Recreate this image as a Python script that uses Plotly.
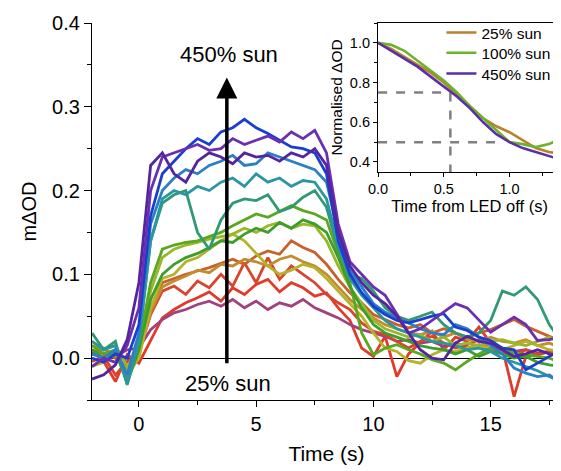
import plotly.graph_objects as go

# ---------------- data ----------------
time_s = [-2.0, -1.5, -1.0, -0.5, 0.0, 0.5, 1.0, 1.5, 2.0, 2.5, 3.0, 3.5, 4.0, 4.5, 5.0,
          5.5, 6.0, 6.5, 7.0, 7.5, 8.0, 8.5, 9.0, 9.5, 10.0, 10.5, 11.0, 11.5, 12.0,
          12.5, 13.0, 13.5, 14.0, 14.5, 15.0, 15.5, 16.0, 16.5, 17.0, 17.5, 18.0]

red_low = [0.008, -0.004, -0.028, 0.004, -0.006, 0.022, 0.048, 0.058, 0.066, 0.072, 0.079, 0.068,
           0.084, 0.076, 0.088, 0.094, 0.079, 0.090, 0.084, 0.074, 0.078, 0.060, 0.045, 0.012,
           0.002, 0.026, -0.022, 0.005, 0.018, 0.032, 0.010, 0.025, 0.020, 0.037, 0.018, 0.012,
           -0.046, 0.002, 0.004, 0.008, 0.000]
magenta = [0.004, 0.012, 0.002, 0.010, 0.012, 0.034, 0.046, 0.054, 0.058, 0.064, 0.068, 0.062,
           0.070, 0.060, 0.068, 0.058, 0.066, 0.062, 0.070, 0.060, 0.054, 0.048, 0.040, 0.034,
           0.030, 0.026, 0.020, 0.022, 0.018, 0.020, 0.014, 0.018, 0.012, 0.016, 0.010, 0.012,
           0.008, 0.010, 0.006, 0.008, 0.004]
red_high = [-0.004, 0.002, -0.020, -0.004, 0.006, 0.052, 0.080, 0.086, 0.076, 0.092, 0.084, 0.100,
            0.086, 0.114, 0.090, 0.120, 0.094, 0.110, 0.100, 0.090, 0.076, 0.066, 0.058, 0.042,
            0.032, 0.028, 0.020, 0.012, 0.020, 0.026, 0.018, 0.012, 0.016, 0.022, 0.010, 0.006,
            0.002, 0.010, 0.004, 0.008, 0.002]
orange = [0.010, 0.005, 0.000, -0.010, 0.010, 0.060, 0.090, 0.095, 0.100, 0.104, 0.108, 0.113,
          0.118, 0.112, 0.122, 0.128, 0.124, 0.140, 0.132, 0.126, 0.112, 0.094, 0.078, 0.066,
          0.052, 0.046, 0.040, 0.036, 0.040, 0.030, 0.035, 0.030, 0.025, 0.030, 0.034, 0.040,
          0.046, 0.038, 0.032, 0.026, 0.021]
ochre = [0.015, 0.010, 0.005, -0.015, 0.005, 0.055, 0.085, 0.092, 0.098, 0.105, 0.102, 0.112,
         0.110, 0.118, 0.115, 0.110, 0.118, 0.122, 0.115, 0.110, 0.100, 0.085, 0.070, 0.058,
         0.048, 0.040, 0.035, 0.030, 0.028, 0.032, 0.025, 0.030, 0.022, 0.020, 0.025, 0.020,
         0.018, 0.022, 0.015, 0.018, 0.012]
olive = [-0.010, -0.005, 0.005, -0.020, 0.000, 0.060, 0.095, 0.100, 0.115, 0.120, 0.130, 0.140,
         0.148, 0.140, 0.125, 0.110, 0.100, 0.105, 0.112, 0.108, 0.095, 0.080, 0.065, 0.050,
         0.030, 0.012, 0.008, -0.003, -0.006, 0.004, 0.010, 0.008, 0.012, 0.015, 0.012, 0.010,
         0.015, 0.020, 0.015, 0.010, 0.008]
yellow_green = [0.020, 0.010, 0.015, -0.010, 0.010, 0.080, 0.120, 0.130, 0.135, 0.138, 0.142, 0.145,
                0.148, 0.155, 0.150, 0.158, 0.162, 0.155, 0.160, 0.158, 0.140, 0.110, 0.085, 0.065,
                0.045, 0.035, 0.030, 0.025, 0.028, 0.020, 0.025, 0.015, 0.018, 0.015, 0.020, 0.022,
                0.018, 0.015, 0.020, 0.025, 0.018]
green = [0.015, 0.005, 0.010, -0.025, 0.015, 0.090, 0.130, 0.135, 0.138, 0.140, 0.145, 0.150,
         0.158, 0.165, 0.172, 0.168, 0.175, 0.182, 0.176, 0.172, 0.165, 0.125, 0.090, 0.030,
         0.004, 0.012, 0.016, 0.010, 0.005, -0.002, -0.006, -0.014, -0.004, 0.005, 0.012, 0.010,
         0.006, 0.004, 0.002, 0.000, -0.005]
green2 = [0.010, 0.000, 0.008, -0.030, 0.010, 0.070, 0.100, 0.112, 0.120, 0.125, 0.132, 0.140,
          0.138, 0.148, 0.155, 0.150, 0.162, 0.155, 0.165, 0.160, 0.150, 0.120, 0.085, 0.060,
          0.040, 0.030, 0.025, 0.020, 0.015, 0.012, 0.010, 0.005, 0.010, 0.002, 0.008, 0.005,
          0.000, 0.002, -0.005, -0.008, -0.010]
sea_green = [0.030, 0.010, 0.020, -0.032, 0.020, 0.140, 0.185, 0.195, 0.200, 0.150, 0.130, 0.165,
             0.185, 0.190, 0.188, 0.195, 0.175, 0.180, 0.192, 0.200, 0.180, 0.130, 0.100, 0.095,
             0.080, 0.060, 0.050, 0.045, 0.050, 0.055, 0.040, 0.030, 0.025, 0.030, 0.045, 0.080,
             0.075, 0.085, 0.070, 0.040, 0.020]
teal = [0.020, 0.010, 0.015, -0.030, 0.020, 0.140, 0.190, 0.200, 0.195, 0.205, 0.200, 0.210,
        0.215, 0.205, 0.220, 0.210, 0.215, 0.205, 0.212, 0.210, 0.190, 0.135, 0.095, 0.075,
        0.060, 0.045, 0.035, 0.030, 0.025, 0.020, 0.018, 0.015, 0.010, 0.012, 0.008, 0.000,
        -0.005, -0.010, -0.015, -0.022, -0.028]
light_blue = [0.005, 0.000, 0.010, -0.020, 0.030, 0.160, 0.200, 0.215, 0.225, 0.220, 0.230, 0.235,
              0.242, 0.230, 0.232, 0.245, 0.240, 0.235, 0.230, 0.225, 0.210, 0.150, 0.105, 0.085,
              0.065, 0.055, 0.048, 0.042, 0.035, 0.030, 0.028, 0.040, 0.035, 0.025, 0.015, 0.005,
              -0.012, -0.018, -0.022, -0.020, -0.030]
blue = [0.000, -0.005, 0.005, 0.000, 0.040, 0.170, 0.220, 0.235, 0.250, 0.262, 0.255, 0.270,
        0.275, 0.285, 0.275, 0.268, 0.260, 0.252, 0.250, 0.245, 0.220, 0.140, 0.100, 0.078,
        0.062, 0.052, 0.045, 0.042, 0.046, 0.050, 0.053, 0.037, 0.033, 0.025, 0.021, 0.012,
        0.010, -0.014, -0.006, 0.002, 0.010]
purple1 = [-0.010, 0.000, -0.005, 0.015, 0.060, 0.200, 0.240, 0.245, 0.250, 0.255, 0.248, 0.250,
           0.262, 0.255, 0.260, 0.265, 0.258, 0.270, 0.262, 0.272, 0.245, 0.160, 0.115, 0.100,
           0.085, 0.075, 0.053, 0.030, 0.035, 0.045, 0.055, 0.065, 0.060, 0.045, 0.031, 0.040,
           0.049, 0.040, 0.021, 0.022, 0.025]
purple2 = [-0.025, -0.020, -0.008, 0.022, 0.090, 0.230, 0.245, 0.220, 0.210, 0.235, 0.245, 0.240,
           0.232, 0.245, 0.240, 0.242, 0.235, 0.245, 0.240, 0.250, 0.230, 0.150, 0.110, 0.090,
           0.075, 0.065, 0.050, 0.030, 0.010, 0.000, -0.002, 0.018, 0.026, 0.020, 0.018, 0.010,
           0.002, 0.005, 0.010, 0.005, 0.002]

main_series = [red_low, magenta, red_high, orange, ochre, olive, yellow_green, green, green2,
               sea_green, teal, light_blue, blue, purple1, purple2]
main_colors = ["#e03a2a", "#a3407e", "#d8452c", "#c8602c", "#c38c2e", "#b6b22c", "#98b82a",
               "#5aa820", "#3d9e2c", "#2f9a72", "#2a96a2", "#2c7fc6", "#1a3fd0", "#6a2fb2",
               "#55259f"]

# inset: normalised decay after LED off
inset_time = [0.0, 0.1, 0.2, 0.3, 0.4, 0.5, 0.6, 0.7, 0.8, 0.9, 1.0, 1.1, 1.2, 1.3, 1.4]
inset_25 = [1.00, 0.97, 0.93, 0.89, 0.85, 0.80, 0.74, 0.68, 0.62, 0.58, 0.55, 0.51, 0.47, 0.45, 0.44]
inset_100 = [1.00, 0.99, 0.96, 0.91, 0.86, 0.81, 0.75, 0.68, 0.62, 0.56, 0.50, 0.49, 0.475, 0.49, 0.52]
inset_450 = [1.00, 0.96, 0.92, 0.88, 0.83, 0.78, 0.73, 0.67, 0.60, 0.54, 0.50, 0.47, 0.45, 0.43, 0.41]
inset_names = ["25% sun", "100% sun", "450% sun"]
inset_colors = ["#b8822e", "#6cb22a", "#5a2fa8"]

# guide levels in the inset
level_75 = 0.75
level_50 = 0.50
t_75 = 0.55
t_50_end = 0.95

# ranges
main_x_range = [-2, 18]
main_y_range = [-0.05, 0.4]
inset_x_range = [0, 1.392]
inset_y_range = [0.35, 1.1]

arrow_x = 3.75
arrow_y_start = -0.008
arrow_y_end = 0.335

FONT = "Arial, Liberation Sans, sans-serif"

fig = go.Figure()

for vals, col in zip(main_series, main_colors):
    fig.add_trace(go.Scatter(x=time_s, y=vals, mode="lines",
                             line=dict(color=col, width=2.8),
                             showlegend=False, hoverinfo="skip"))

# white background for inset (covers the main traces)
fig.add_trace(go.Scatter(
    x=[inset_x_range[0], inset_x_range[1], inset_x_range[1], inset_x_range[0], inset_x_range[0]],
    y=[inset_y_range[0], inset_y_range[0], inset_y_range[1], inset_y_range[1], inset_y_range[0]],
    mode="lines", fill="toself", fillcolor="white", line=dict(width=0, color="white"),
    xaxis="x2", yaxis="y2", showlegend=False, hoverinfo="skip"))

# dashed guides
guide = dict(color="#808080", width=2.5, dash="dash")
fig.add_trace(go.Scatter(x=[inset_x_range[0], t_75], y=[level_75, level_75], mode="lines",
                         line=guide, xaxis="x2", yaxis="y2", showlegend=False, hoverinfo="skip"))
fig.add_trace(go.Scatter(x=[t_75, t_75], y=[level_75, inset_y_range[0]], mode="lines",
                         line=guide, xaxis="x2", yaxis="y2", showlegend=False, hoverinfo="skip"))
fig.add_trace(go.Scatter(x=[inset_x_range[0], t_50_end], y=[level_50, level_50], mode="lines",
                         line=guide, xaxis="x2", yaxis="y2", showlegend=False, hoverinfo="skip"))

legend_ids = ["legend", "legend2", "legend3"]
for name, vals, col, lg in zip(inset_names, [inset_25, inset_100, inset_450], inset_colors, legend_ids):
    fig.add_trace(go.Scatter(x=inset_time, y=vals, mode="lines", name=name,
                             line=dict(color=col, width=2.6), legend=lg,
                             xaxis="x2", yaxis="y2", hoverinfo="skip"))

axis_common = dict(showgrid=False, showline=True, linecolor="black", linewidth=1.3,
                   ticks="outside", tickcolor="black", tickwidth=1.3, automargin=False)

legend_style = dict(x=0.745, xanchor="left", yanchor="middle", bgcolor="rgba(0,0,0,0)",
                    font=dict(size=15.5), borderwidth=0)

# the page adds an 8px body margin, so the figure is sized to fill the rest of the window
fig.update_layout(
    width=553, height=463,
    margin=dict(l=84, r=0, t=15, b=71),
    paper_bgcolor="white", plot_bgcolor="white",
    font=dict(family=FONT, color="black"),
    xaxis=dict(**axis_common, range=main_x_range, domain=[0, 1],
               tickvals=[0, 5, 10, 15], ticklen=6, tickfont=dict(size=20),
               minor=dict(dtick=2.5, tick0=0, ticklen=4, ticks="outside", tickcolor="black"),
               zeroline=False,
               title=dict(text="Time (s)", font=dict(size=21), standoff=12)),
    yaxis=dict(**axis_common, range=main_y_range, domain=[0, 1],
               tick0=0, dtick=0.1, tickformat=".1f", ticklen=7, tickfont=dict(size=20),
               minor=dict(dtick=0.05, tick0=0, ticklen=4, ticks="outside", tickcolor="black"),
               zeroline=True, zerolinecolor="black", zerolinewidth=1.3,
               title=dict(text="mΔOD", font=dict(size=20), standoff=10)),
    xaxis2=dict(**axis_common, range=inset_x_range, domain=[0.61, 1], anchor="y2",
                mirror=True, tickvals=[0, 0.5, 1.0], tickformat=".1f", ticklen=4,
                tickfont=dict(size=14.5),
                minor=dict(dtick=0.25, tick0=0, ticklen=3, ticks="outside", tickcolor="black"),
                zeroline=False,
                title=dict(text="Time from LED off (s)", font=dict(size=16.5), standoff=2)),
    yaxis2=dict(**axis_common, range=inset_y_range, domain=[0.605, 1], anchor="x2",
                tick0=0, dtick=0.2, tickformat=".1f", ticklen=4, tickfont=dict(size=14.5),
                minor=dict(dtick=0.1, tick0=0, ticklen=3, ticks="outside", tickcolor="black"),
                zeroline=False,
                title=dict(text="Normalised ΔOD", font=dict(size=15.5), standoff=3)),
    legend=dict(**legend_style, y=0.9735),
    legend2=dict(**legend_style, y=0.920),
    legend3=dict(**legend_style, y=0.865),
    annotations=[
        dict(x=arrow_x, y=arrow_y_end, ax=arrow_x, ay=arrow_y_start, xref="x", yref="y",
             axref="x", ayref="y", showarrow=True, arrowhead=2, arrowsize=1.2,
             arrowwidth=3.5, arrowcolor="black", text=""),
        dict(x=arrow_x + 0.1, y=0.362, xref="x", yref="y", text="450% sun", showarrow=False,
             font=dict(size=22)),
        dict(x=arrow_x + 0.05, y=-0.03, xref="x", yref="y", text="25% sun", showarrow=False,
             font=dict(size=22)),
    ],
)

fig.write_html("out.html")
